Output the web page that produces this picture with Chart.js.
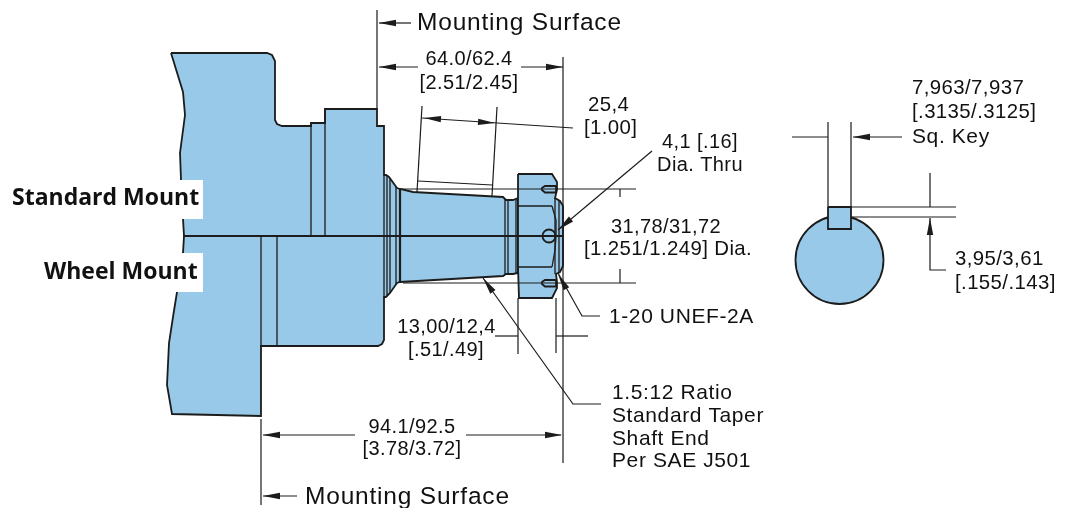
<!DOCTYPE html>
<html><head><meta charset="utf-8">
<style>html,body{margin:0;padding:0;background:#fff}canvas{display:block}</style>
<script src="https://cdn.jsdelivr.net/npm/chart.js@4/dist/chart.umd.js"></script>
</head><body><canvas id="c" width="1069" height="508"></canvas>
<script>
const BLUE='#99c9e8', INK='#1c1c1c';
const bodyOutline=[[171,53],[267,53],[272,55],[275,61],[275,120],[277,124],[282,126],[311,126],[311,123],[325,123],[325,109],[377,109],[377,126],[384,126],[384,175],[386,175],[389,177],[397,188],[400,189],[413,192],[503,197],[506,200],[513,200],[518,198],[518,273],[513,274],[506,274],[503,276],[400,282],[397,283],[390,293],[386,297],[384,297],[384,340],[382,344],[378,346],[261,346],[261,416],[172,414],[167,385],[169,343],[173,317],[177,292],[183,253],[184,236],[183,219],[181,180],[180,153],[185,115],[183,92],[171,53]];
const nutOutline=[[518,174],[552,174],[557,182],[557,190],[555,198],[560,201],[563,206],[563,266],[560,272],[556,274],[557,282],[557,288],[552,298],[519,298],[518,267],[518,206],[518,174]];
const pinTop=[[556,186],[545,186],[542,188],[542,190],[545,192.5],[556,192.5],[556,186]];
const pinBottom=[[556,280],[545,280],[542,282],[542,284],[545,286.5],[556,286.5],[556,280]];
const keyOutline=[[828,207],[851,207],[851,229],[828,229],[828,207]];
const shaftCircle=[[839.5,260]];
const holeCircle=[[549,236]];
const partLines=[
 [[311,123],[311,236]],[[325,109],[325,236]],[[261,236],[261,346]],[[277,236],[277,346]],
 [[384,175],[384,297]],[[387,176],[387,296]],[[390,179],[390,293]],[[396,187],[396,284]],
 [[505,199],[505,275]],[[508,200],[508,274]],[[516,199],[516,273]],
 [[518,206],[552,206]],[[518,267],[552,267]],
 [[552,206],[556,220],[556,236],[555,250],[552,267]],
 [[555,198],[555,274]],[[559,201],[559,272]]
];
const heavyLines=[[[183,236],[563,236]],[[400,189],[400,282]]];
const dimLines=[
 [[377,10],[377,109]],[[379,23],[411,23]],
 [[379,67],[418,67]],[[521,67],[563,67]],[[563,57],[563,463]],
 [[422,106],[417,192]],[[497,107],[492,196]],[[418,181],[492,185]],[[422,118],[573,128]],
 [[400,189],[636,189]],[[403,283],[636,283]],[[620,189],[620,197]],[[620,269],[620,283]],
 [[652,151],[558,230]],
 [[558,273],[582,316],[600,316]],
 [[495,336],[518,336]],[[518,298],[518,354]],[[556,298],[556,353]],[[556,336],[588,336]],
 [[483,278],[573,404],[601,404]],
 [[263,435],[355,435]],[[466,435],[561,435]],
 [[261,419],[261,505]],[[263,496],[297,496]],
 [[828,122],[828,207]],[[851,122],[851,207]],[[792,137],[828,137]],[[853,137],[902,137]],
 [[851,207],[956,207]],[[851,217],[956,217]],[[930,173],[930,207]],[[930,218],[930,270],[946,270]]
];
const arrowHeads=[[379,23,411,23],[379,67,418,67],[563,67,521,67],[424,118,573,128],[495,123,422,118],[558,230,652,151],[558,274,582,316],[483,278,573,404],[263,435,355,435],[562,435,466,435],[263,496,297,496],[853,137,902,137],[930,218,930,270]];
const whiteBoxes=[[0,180,203,219],[0,253,203,292]];
const labelsBold=[['Standard Mount',12,205],['Wheel Mount',44,279]];
const labelsLarge=[['Mounting Surface',417,30],['Mounting Surface',305,504]];
const labelsLeft=[['25,4',588,111],['[1.00]',584,134],['[1.251/1.249] Dia.',584,255],['7,963/7,937',912,94],['[.3135/.3125]',912,118],['3,95/3,61',955,265],['[.155/.143]',955,289]];
const labelsWide=[['Sq. Key',912,143],['1-20 UNEF-2A',609,323],['1.5:12 Ratio',612,399],['Standard Taper',612,422],['Shaft End',612,445],['Per SAE J501',612,467]];
const labelsCenter=[['64.0/62.4',469,65],['[2.51/2.45]',469,89],['4,1 [.16]',700,148],['Dia. Thru',700,171],['31,78/31,72',666,233],['13,00/12,4',446.5,333],['[.51/.49]',446,356],['94.1/92.5',412,433],['[3.78/3.72]',412,455]];

const pts=a=>a.map(p=>({x:p[0],y:p[1]}));
const shape=a=>({data:pts(a),showLine:true,fill:'shape',backgroundColor:BLUE,borderColor:INK,borderWidth:1.8,pointRadius:0,tension:0});
const line=(a,w)=>({data:pts(a),showLine:true,fill:false,borderColor:INK,borderWidth:w,pointRadius:0,tension:0});
const circle=(a,r,f,w)=>({data:pts(a),showLine:false,pointRadius:r,pointHoverRadius:r,pointBackgroundColor:f,pointBorderColor:INK,pointBorderWidth:w});
const datasets=[
 shape(bodyOutline),
 ...partLines.map(a=>line(a,1.3)),
 shape(nutOutline),
 ...partLines.slice(11).map(a=>line(a,1.3)),
 shape(pinTop),shape(pinBottom),
 circle(holeCircle,6.5,'rgba(153,201,232,0)',1.8),
 ...heavyLines.map(a=>line(a,2.2)),
 ...dimLines.map(a=>line(a,1.2)),
 circle(shaftCircle,44,BLUE,1.8),
 shape(keyOutline)
];
datasets.forEach((d,i)=>{d.order=-i;d.clip=false;});

const annotate={id:'annotate',afterDatasetsDraw(ch){
 const X=ch.scales.x,Y=ch.scales.y,g=ch.ctx;
 g.save();
 g.fillStyle='#fff';
 whiteBoxes.forEach(b=>{const x0=X.getPixelForValue(b[0]),y0=Y.getPixelForValue(b[1]);g.fillRect(x0,y0,X.getPixelForValue(b[2])-x0,Y.getPixelForValue(b[3])-y0);});
 g.fillStyle=INK;
 arrowHeads.forEach(a=>{
  const tx=X.getPixelForValue(a[0]),ty=Y.getPixelForValue(a[1]),fx=X.getPixelForValue(a[2]),fy=Y.getPixelForValue(a[3]);
  const t=Math.atan2(fy-ty,fx-tx),L=17,W=3.2,c=Math.cos(t),s=Math.sin(t);
  g.beginPath();g.moveTo(tx,ty);g.lineTo(tx+L*c-W*s,ty+L*s+W*c);g.lineTo(tx+L*c+W*s,ty+L*s-W*c);g.closePath();g.fill();
 });
 g.textBaseline='alphabetic';
 const put=(list,font,sp,al)=>{g.font=font;g.letterSpacing=sp;g.textAlign=al;list.forEach(t=>g.fillText(t[0],X.getPixelForValue(t[1]),Y.getPixelForValue(t[2])));};
 g.fillStyle='#111';
 put(labelsBold,'bold 23px "Open Sans"','0px','left');
 put(labelsLarge,'24.5px "Liberation Sans"','0.8px','left');
 put(labelsLeft,'20.4px "Liberation Sans"','0.4px','left');
 put(labelsWide,'21px "Liberation Sans"','0.6px','left');
 put(labelsCenter,'20px "Liberation Sans"','0.4px','center');
 g.restore();
}};
new Chart(document.getElementById('c'),{type:'scatter',data:{datasets},plugins:[annotate],options:{
 responsive:false,animation:false,devicePixelRatio:1,events:[],layout:{padding:0,autoPadding:false},
 plugins:{legend:{display:false},tooltip:{enabled:false},title:{display:false}},
 scales:{x:{type:'linear',display:false,min:0,max:1069},y:{type:'linear',display:false,min:0,max:508,reverse:true}}
}});
</script></body></html>
